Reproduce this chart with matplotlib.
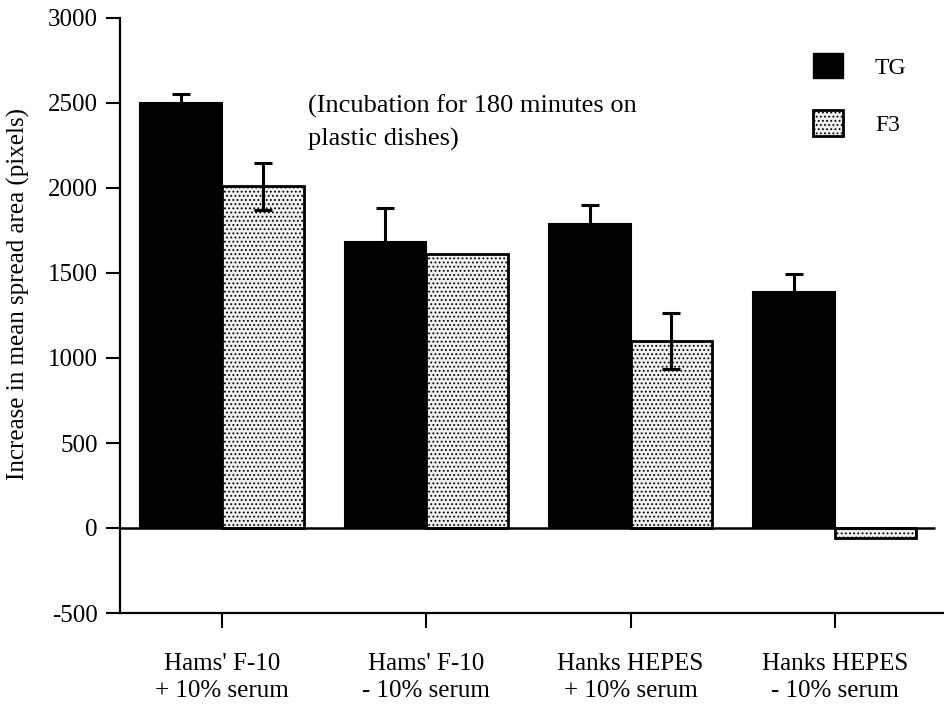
import numpy as np
import matplotlib
matplotlib.use('Agg')
import matplotlib.pyplot as plt
from matplotlib.patches import Patch

plt.rcParams['font.family'] = ['Liberation Serif', 'DejaVu Serif']
plt.rcParams['axes.unicode_minus'] = False
plt.rcParams['hatch.linewidth'] = 0.8
plt.rcParams['hatch.color'] = '#303030'

# Spread area data (pixels)
conditions = ["Hams' F-10\n+ 10% serum", "Hams' F-10\n- 10% serum",
              "Hanks HEPES\n+ 10% serum", "Hanks HEPES\n- 10% serum"]
tg_mean = [2500, 1680, 1790, 1390]
tg_err = [55, 200, 110, 105]
f3_mean = [2010, 1610, 1100, -60]
f3_err = [140, 0, 165, 0]

fig = plt.figure(figsize=(9.45, 7.08), dpi=100)
ax = fig.add_axes([120 / 945, 95 / 708, 825 / 945, 595 / 708])

x = np.arange(len(conditions))
w = 0.4

ax.bar(x - w / 2, tg_mean, w, color='black', edgecolor='black', linewidth=1.5, label='TG')
ax.bar(x + w / 2, f3_mean, w, color='#efefef', edgecolor='black', linewidth=2,
       hatch='....', label='F3')

for xi, m, e in zip(x - w / 2, tg_mean, tg_err):
    if e > 0:
        ax.errorbar(xi, m, yerr=e, fmt='none', ecolor='black', elinewidth=2.2,
                    capsize=6.5, capthick=2.2)
for xi, m, e in zip(x + w / 2, f3_mean, f3_err):
    if e > 0:
        ax.errorbar(xi, m, yerr=e, fmt='none', ecolor='black', elinewidth=2.2,
                    capsize=6.5, capthick=2.2)

# zero line
ax.hlines(0, -0.5, 3.49, color='black', linewidth=1.8, zorder=3)

ax.set_xlim(-0.5, 3.54)
ax.set_ylim(-500, 3000)
ax.set_yticks(np.arange(-500, 3001, 500))
ax.set_xticks(x)
ax.set_xticklabels(conditions)
for lab in ax.get_xticklabels():
    lab.set_linespacing(1.3)

for s in ['top', 'right']:
    ax.spines[s].set_visible(False)
for s in ['left', 'bottom']:
    ax.spines[s].set_linewidth(1.6)

ax.tick_params(axis='y', direction='out', length=10, width=1.5, pad=6, labelsize=18)
ax.tick_params(axis='x', direction='out', length=11, width=1.5, pad=18, labelsize=18)

fig.text(18 / 945, 1 - 294 / 708, 'Increase in mean spread area (pixels)',
         rotation=90, ha='center', va='center', fontsize=18)

fig.text(308 / 945, 1 - 95 / 708, '(Incubation for 180 minutes on\nplastic dishes)',
         ha='left', va='top', fontsize=19, linespacing=1.55)

handles = [Patch(facecolor='black', edgecolor='black', label='TG'),
           Patch(facecolor='#efefef', edgecolor='black', linewidth=2, hatch='....', label='F3')]
ax.legend(handles=handles, loc='upper left', bbox_to_anchor=(813 / 945, 1 - 53 / 708),
          bbox_transform=fig.transFigure, frameon=False, fontsize=17,
          handlelength=1.27, handleheight=1.27, labelspacing=1.35,
          handletextpad=1.35, borderpad=0, borderaxespad=0)

fig.savefig('out.png', dpi=100)
